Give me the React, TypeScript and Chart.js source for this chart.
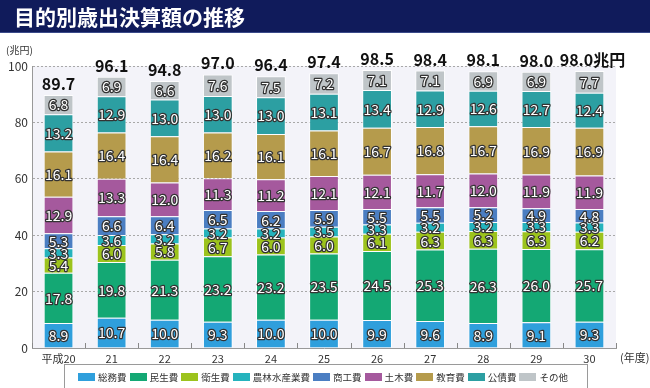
import React, { useEffect, useRef } from "react";
import { Chart, registerables } from "chart.js";

Chart.register(...registerables);

const categories = ["平成20", "21", "22", "23", "24", "25", "26", "27", "28", "29", "30"];
const seriesNames = ["総務費", "民生費", "衛生費", "農林水産業費", "商工費", "土木費", "教育費", "公債費", "その他"];
const seriesColors = ["#2f9fdc", "#14a874", "#9cc31d", "#25b3bd", "#4b7ec2", "#a5599d", "#b59b4c", "#2c9fa2", "#bfc5c8"];

const soumu = [8.9, 10.7, 10.0, 9.3, 10.0, 10.0, 9.9, 9.6, 8.9, 9.1, 9.3];
const minsei = [17.8, 19.8, 21.3, 23.2, 23.2, 23.5, 24.5, 25.3, 26.3, 26.0, 25.7];
const eisei = [5.4, 6.0, 5.8, 6.7, 6.0, 6.0, 6.1, 6.3, 6.3, 6.3, 6.2];
const nourin = [3.3, 3.6, 3.2, 3.2, 3.2, 3.5, 3.3, 3.2, 3.2, 3.3, 3.3];
const shoukou = [5.3, 6.6, 6.4, 6.5, 6.2, 5.9, 5.5, 5.5, 5.2, 4.9, 4.8];
const doboku = [12.9, 13.3, 12.0, 11.3, 11.2, 12.1, 12.1, 11.7, 12.0, 11.9, 11.9];
const kyouiku = [16.1, 16.4, 16.4, 16.2, 16.1, 16.1, 16.7, 16.8, 16.7, 16.9, 16.9];
const kousai = [13.2, 12.9, 13.0, 13.0, 13.0, 13.1, 13.4, 12.9, 12.6, 12.7, 12.4];
const sonota = [6.8, 6.9, 6.6, 7.6, 7.5, 7.2, 7.1, 7.1, 6.9, 6.9, 7.7];
const totals = [89.7, 96.1, 94.8, 97.0, 96.4, 97.4, 98.5, 98.4, 98.1, 98.0, 98.0];
const yTicks = [0, 20, 40, 60, 80, 100];

const seriesValues = [soumu, minsei, eisei, nourin, shoukou, doboku, kyouiku, kousai, sonota];

const FONT = '"Noto Sans CJK JP", "Noto Sans", sans-serif';

export default function App() {
  const ref = useRef<HTMLCanvasElement>(null);

  useEffect(() => {
    const canvas = ref.current;
    if (!canvas) return;

    const decor = {
      id: "decor",
      beforeDraw(chart: any) {
        const { ctx, chartArea } = chart;
        ctx.save();
        ctx.fillStyle = "#ffffff";
        ctx.fillRect(0, 0, chart.width, chart.height);
        ctx.fillStyle = "#101b5b";
        ctx.fillRect(0, 0, chart.width, 32);
        ctx.fillStyle = "#3a4a8a";
        ctx.fillRect(0, 32, chart.width, 1);
        ctx.fillStyle = "#ffffff";
        ctx.font = `bold 21px ${FONT}`;
        ctx.textBaseline = "middle";
        ctx.textAlign = "left";
        ctx.fillText("目的別歳出決算額の推移", 14, 17);
        ctx.fillStyle = "#f3f3f9";
        ctx.fillRect(chartArea.left, chartArea.top, chartArea.right - chartArea.left, chartArea.bottom - chartArea.top);
        ctx.restore();
      },
      afterDatasetsDraw(chart: any) {
        const { ctx } = chart;
        ctx.save();
        ctx.textAlign = "center";
        ctx.textBaseline = "middle";
        ctx.lineJoin = "round";
        ctx.font = `14px ${FONT}`;
        chart.data.datasets.forEach((ds: any, di: number) => {
          const meta = chart.getDatasetMeta(di);
          meta.data.forEach((bar: any, i: number) => {
            const v = ds.data[i];
            const y = (bar.y + bar.base) / 2;
            const t = v.toFixed(1);
            ctx.lineWidth = 2.5;
            ctx.strokeStyle = "#333333";
            ctx.strokeText(t, bar.x, y + 0.5);
            ctx.fillStyle = "#ffffff";
            ctx.fillText(t, bar.x, y + 0.5);
          });
        });
        const last = chart.getDatasetMeta(chart.data.datasets.length - 1);
        ctx.font = `bold 16px ${FONT}`;
        ctx.textBaseline = "alphabetic";
        ctx.fillStyle = "#111111";
        last.data.forEach((bar: any, i: number) => {
          let t = totals[i].toFixed(1);
          if (i === totals.length - 1) t += "兆円";
          ctx.fillText(t, bar.x + (i === totals.length - 1 ? 3 : 0), bar.y - 5);
        });
        ctx.restore();
      },
      afterDraw(chart: any) {
        const { ctx, chartArea } = chart;
        const xs = chart.scales.x;
        ctx.save();
        ctx.strokeStyle = "#888888";
        ctx.lineWidth = 1;
        const step = xs.getPixelForValue(1) - xs.getPixelForValue(0);
        for (let i = 0; i <= categories.length; i++) {
          const px = i < categories.length ? xs.getPixelForValue(i) - step / 2 : chartArea.right;
          const x = Math.round(px) + 0.5;
          ctx.beginPath();
          ctx.moveTo(x, chartArea.bottom);
          ctx.lineTo(x, chartArea.bottom - 5);
          ctx.stroke();
        }
        ctx.fillStyle = "#333333";
        ctx.font = `10px ${FONT}`;
        ctx.textAlign = "left";
        ctx.textBaseline = "middle";
        ctx.fillText("(兆円)", 6, 50);
        ctx.font = `11px ${FONT}`;
        ctx.fillText("(年度)", 620, 358);

        const boxL = 64, boxR = 587, boxT = 364, boxB = 394;
        ctx.strokeStyle = "#9a9a9a";
        ctx.lineWidth = 1;
        ctx.strokeRect(boxL + 0.5, boxT + 0.5, boxR - boxL, boxB - boxT);
        ctx.font = `9.5px ${FONT}`;
        const sw = 17, gap = 3;
        const widths = seriesNames.map((n) => sw + gap + ctx.measureText(n).width);
        const sum = widths.reduce((a, b) => a + b, 0);
        const startX = 78, endX = 568;
        const spacing = (endX - startX - sum) / (seriesNames.length - 1);
        let x = startX;
        const cy = 377;
        seriesNames.forEach((n, i) => {
          ctx.fillStyle = seriesColors[i];
          ctx.fillRect(Math.round(x), cy - 4, sw, 8);
          ctx.fillStyle = "#333333";
          ctx.fillText(n, x + sw + gap, cy);
          x += widths[i] + spacing;
        });
        ctx.restore();
      },
    };

    const chart = new Chart(canvas, {
      type: "bar",
      data: {
        labels: categories,
        datasets: seriesNames.map((name, i) => ({
          label: name,
          data: seriesValues[i],
          backgroundColor: seriesColors[i],
          borderColor: "rgba(255,255,255,0.85)",
          borderWidth: 1,
          barPercentage: 0.56,
          categoryPercentage: 1,
        })),
      },
      options: {
        animation: false,
        responsive: false,
        maintainAspectRatio: false,
        layout: { padding: { top: 66, right: 34, bottom: 20, left: 0 } },
        plugins: {
          legend: { display: false },
          tooltip: { enabled: false },
        },
        scales: {
          x: {
            stacked: true,
            grid: { display: false, drawTicks: false },
            border: { display: true, color: "#999999" },
            ticks: { padding: 4, color: "#333333", font: { family: FONT, size: 11 } },
            afterFit(scale: any) {
              scale.height = 20;
            },
          },
          y: {
            stacked: true,
            min: 0,
            max: 100,
            afterBuildTicks(scale: any) {
              scale.ticks = yTicks.map((v) => ({ value: v }));
            },
            grid: {
              drawTicks: false,
              color: (c: any) => (c.tick && c.tick.value === 0 ? "rgba(0,0,0,0)" : "#a8a8a8"),
            },
            border: { display: true, color: "#999999", dash: [2, 2] },
            ticks: { padding: 4, color: "#333333", font: { family: FONT, size: 12 } },
            afterFit(scale: any) {
              scale.width = 32;
            },
          },
        },
      },
      plugins: [decor],
    } as any);

    return () => chart.destroy();
  }, []);

  return (
    <div style={{ position: "fixed", left: 0, top: 0, width: 650, height: 388 }}>
      <canvas ref={ref} width={650} height={388} style={{ display: "block", width: 650, height: 388 }} />
    </div>
  );
}
